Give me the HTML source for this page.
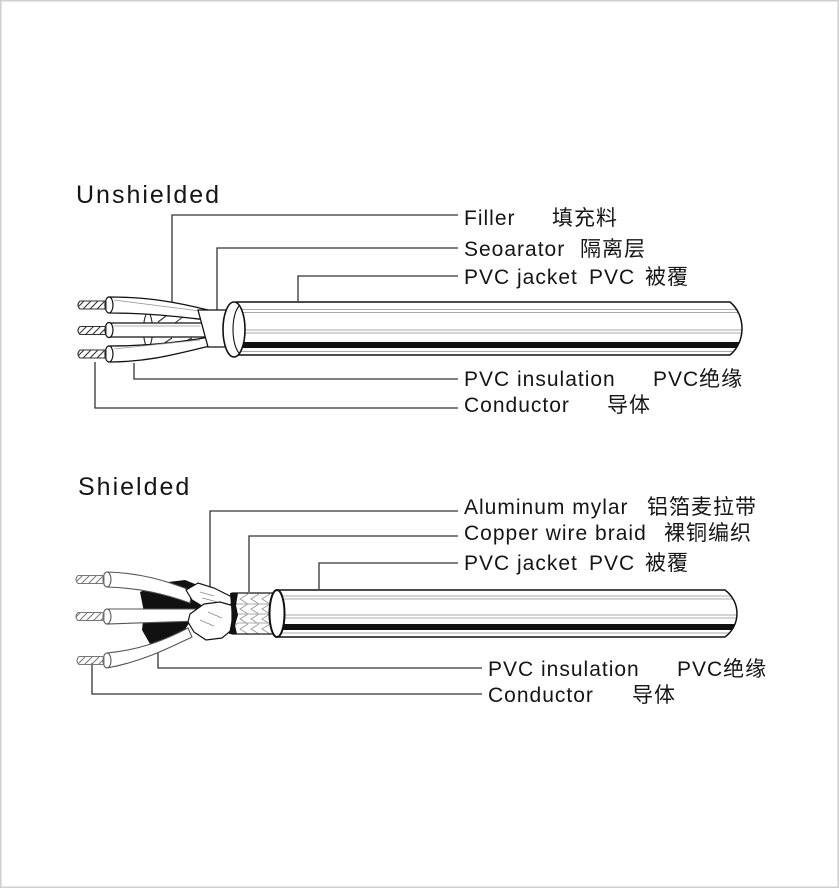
<!DOCTYPE html>
<html>
<head>
<meta charset="utf-8">
<style>
  html, body { margin: 0; padding: 0; background: #fff; }
  body { width: 840px; height: 889px; overflow: hidden; }
  svg { display: block; }
  text { font-family: "Liberation Sans", "Noto Sans CJK SC", sans-serif; fill: #151515; }
  .lbl { font-size: 21px; letter-spacing: 1px; }
  .ttl { font-size: 25px; letter-spacing: 2px; }
</style>
</head>
<body>
<svg width="840" height="889" viewBox="0 0 840 889" xmlns="http://www.w3.org/2000/svg">
  <defs>
    <pattern id="hatchD" patternUnits="userSpaceOnUse" width="7" height="7">
      <path d="M-1,8 L8,-1 M-4,4 L4,-4 M3,11 L11,3" stroke="#333" stroke-width="1.1"/>
    </pattern>
    <pattern id="hatchL" patternUnits="userSpaceOnUse" width="7" height="7">
      <path d="M-1,8 L8,-1 M-4,4 L4,-4 M3,11 L11,3" stroke="#777" stroke-width="1"/>
    </pattern>
    <pattern id="braid" patternUnits="userSpaceOnUse" width="11" height="10" x="237" y="594">
      <path d="M11,0 L3,5 L11,10" stroke="#999" stroke-width="0.9" fill="none"/>
    </pattern>
    <clipPath id="clipU">
      <path d="M236,302 L730,302 C746,315 746,342 730,355 L236,355 Z"/>
    </clipPath>
    <clipPath id="clipS">
      <path d="M276,590 L725,590 C741,602 741,625 725,637 L276,637 Z"/>
    </clipPath>
  </defs>

  <!-- border -->
  <rect x="0.75" y="0.75" width="837.5" height="886.5" fill="none" stroke="#cfcfcf" stroke-width="1.5"/>

  <!-- ================= UNSHIELDED ================= -->
  <text class="ttl" x="76" y="203">Unshielded</text>

  <g stroke="#333" stroke-width="1.3" fill="none">
    <path d="M172,306 L172,215 L458,215"/>
    <path d="M217,310 L217,248 L458,248"/>
    <path d="M298,301 L298,276 L458,276"/>
    <path d="M134,363 L134,379 L458,379"/>
    <path d="M95,362 L95,408 L458,408"/>
  </g>

  <!-- filler -->
  <path d="M146,313 L205,311 L207,347 L146,347 Z" fill="#fff" stroke="none"/>
  <ellipse cx="148" cy="330" rx="4.5" ry="17" fill="#fff" stroke="#222" stroke-width="1.1"/>
  <g stroke="#333" stroke-width="1.1">
    <line x1="158" y1="322" x2="170" y2="313"/>
    <line x1="175" y1="323" x2="188" y2="313"/>
    <line x1="160" y1="346" x2="172" y2="338"/>
    <line x1="178" y1="345" x2="192" y2="338"/>
  </g>

  <!-- wires unshielded -->
  <g stroke="#111" stroke-width="1.3" fill="#fff">
    <path d="M109,297 C150,297 180,303 208,310 L208,320 C180,317 150,313 109,313 Z"/>
    <path d="M109,323 L208,323 L208,337 L109,337 Z"/>
    <path d="M109,346 C150,346 180,342 210,337 L210,346 C180,353 150,362 109,362 Z"/>
  </g>
  <g stroke="#999" stroke-width="0.8">
    <line x1="114" y1="300" x2="200" y2="311"/>
    <line x1="114" y1="326" x2="200" y2="326"/>
    <line x1="114" y1="349" x2="200" y2="340"/>
  </g>
  <g stroke="#111" stroke-width="1.2" fill="#fff">
    <ellipse cx="109" cy="305" rx="4" ry="8"/>
    <ellipse cx="109" cy="330" rx="4" ry="7.5"/>
    <ellipse cx="109" cy="354" rx="4" ry="8"/>
  </g>
  <g stroke="#333" stroke-width="1.1" fill="url(#hatchD)">
    <path d="M80,301 L106,301 L106,309 L80,309 Q76,305 80,301 Z"/>
    <path d="M80,326.5 L106,326.5 L106,334.5 L80,334.5 Q76,330.5 80,326.5 Z"/>
    <path d="M80,350 L106,350 L106,358 L80,358 Q76,354 80,350 Z"/>
  </g>

  <!-- separator -->
  <path d="M198,310 L234,310 L234,347 L208,347 Z" fill="#fff" stroke="#111" stroke-width="1.3"/>

  <!-- jacket unshielded -->
  <path d="M236,302 L730,302 C746,315 746,342 730,355 L236,355 Z" fill="#fff"/>
  <g clip-path="url(#clipU)">
    <g stroke="#a8a8a8" stroke-width="1">
      <line x1="236" y1="309.5" x2="760" y2="309.5"/>
      <line x1="236" y1="312.5" x2="760" y2="312.5"/>
      <line x1="236" y1="330" x2="760" y2="330"/>
      <line x1="236" y1="333" x2="760" y2="333"/>
      <line x1="236" y1="351.5" x2="760" y2="351.5"/>
    </g>
    <rect x="236" y="342" width="530" height="6" fill="#111"/>
  </g>
  <path d="M236,302 L730,302 C746,315 746,342 730,355 L236,355" fill="none" stroke="#111" stroke-width="1.5"/>
  <ellipse cx="234" cy="329.5" rx="11" ry="27.5" fill="#fff" stroke="#111" stroke-width="1.6"/>
  <path d="M239,306 C231,315 231,344 239,353" fill="none" stroke="#111" stroke-width="1.1"/>

  <!-- labels unshielded -->
  <text class="lbl" x="464" y="225">Filler</text>
  <text class="lbl" x="552" y="225">填充料</text>
  <text class="lbl" x="464" y="256">Seoarator</text>
  <text class="lbl" x="580" y="256">隔离层</text>
  <text class="lbl" x="464" y="284">PVC jacket</text>
  <text class="lbl" x="589" y="284">PVC</text>
  <text class="lbl" x="645" y="284">被覆</text>
  <text class="lbl" x="464" y="386">PVC insulation</text>
  <text class="lbl" x="653" y="386">PVC绝缘</text>
  <text class="lbl" x="464" y="412">Conductor</text>
  <text class="lbl" x="607" y="412">导体</text>

  <!-- ================= SHIELDED ================= -->
  <text class="ttl" x="78" y="495">Shielded</text>

  <g stroke="#333" stroke-width="1.3" fill="none">
    <path d="M210,587 L210,511 L458,511"/>
    <path d="M249,592 L249,536 L458,536"/>
    <path d="M319,589 L319,563 L458,563"/>
    <path d="M158,650 L158,668 L482,668"/>
    <path d="M92,663 L92,694 L482,694"/>
  </g>

  <!-- black filler / shadow -->
  <path d="M140,592 L160,583 L185,580 L200,586 L208,598 L196,612 L186,628 L176,642 L162,649 L150,644 L142,630 L144,612 Z" fill="#111"/>

  <!-- wires shielded -->
  <g stroke="#555" stroke-width="1.1" fill="#fff">
    <path d="M107,572 C140,573 165,580 192,591 L190,603 C165,594 140,588 107,587 Z"/>
    <path d="M107,609 L198,609 L198,621 L107,624 Z"/>
    <path d="M107,653 C140,650 165,640 188,628 L192,637 C165,650 140,662 107,668 Z"/>
  </g>
  <g stroke="#555" stroke-width="1.1" fill="#fff">
    <ellipse cx="107" cy="579.5" rx="4" ry="7.5"/>
    <ellipse cx="107" cy="616.5" rx="4" ry="7.5"/>
    <ellipse cx="107" cy="660.5" rx="4" ry="7.5"/>
  </g>
  <g stroke="#777" stroke-width="1" fill="url(#hatchL)">
    <path d="M78,575.5 L104,575.5 L104,583.5 L78,583.5 Q74,579.5 78,575.5 Z"/>
    <path d="M78,612.5 L104,612.5 L104,620.5 L78,620.5 Q74,616.5 78,612.5 Z"/>
    <path d="M79,656.5 L104,656.5 L104,664.5 L79,664.5 Q75,660.5 79,656.5 Z"/>
  </g>

  <!-- foil pieces -->
  <g stroke="#111" stroke-width="1.2" fill="#fff">
    <path d="M186,590 L198,583 L214,588 L226,594 L234,598 L230,606 L216,610 L202,606 L192,600 Z"/>
    <path d="M190,614 L204,604 L220,602 L234,606 L234,628 L222,638 L206,640 L194,632 L188,622 Z"/>
  </g>
  <g stroke="#888" stroke-width="0.7">
    <line x1="200" y1="592" x2="214" y2="596"/>
    <line x1="202" y1="598" x2="218" y2="602"/>
    <line x1="200" y1="620" x2="214" y2="626"/>
    <line x1="208" y1="612" x2="222" y2="618"/>
  </g>

  <!-- braid -->
  <rect x="232" y="593" width="46" height="41" fill="url(#braid)" stroke="#111" stroke-width="1.2"/>
  <g stroke="#aaa" stroke-width="0.9">
    <line x1="237" y1="604" x2="276" y2="604"/>
    <line x1="237" y1="614" x2="276" y2="614"/>
    <line x1="237" y1="623" x2="276" y2="623"/>
  </g>
  <path d="M230,593 L238,593 L236,605 L238,615 L235,625 L237,634 L229,634 L232,618 Z" fill="#111"/>

  <!-- jacket shielded -->
  <path d="M278,590 L725,590 C741,602 741,625 725,637 L278,637 Z" fill="#fff"/>
  <g clip-path="url(#clipS)">
    <g stroke="#a8a8a8" stroke-width="1">
      <line x1="276" y1="596" x2="760" y2="596"/>
      <line x1="276" y1="599" x2="760" y2="599"/>
      <line x1="276" y1="615" x2="760" y2="615"/>
      <line x1="276" y1="618" x2="760" y2="618"/>
      <line x1="276" y1="633" x2="760" y2="633"/>
    </g>
    <rect x="276" y="624" width="490" height="6" fill="#111"/>
  </g>
  <path d="M278,590 L725,590 C741,602 741,625 725,637 L278,637" fill="none" stroke="#111" stroke-width="1.5"/>
  <ellipse cx="277" cy="613.5" rx="7.5" ry="23.5" fill="#fff" stroke="#111" stroke-width="2"/>

  <!-- labels shielded -->
  <text class="lbl" x="464" y="514">Aluminum mylar</text>
  <text class="lbl" x="647" y="514">铝箔麦拉带</text>
  <text class="lbl" x="464" y="540">Copper wire braid</text>
  <text class="lbl" x="664" y="540">裸铜编织</text>
  <text class="lbl" x="464" y="570">PVC jacket</text>
  <text class="lbl" x="589" y="570">PVC</text>
  <text class="lbl" x="645" y="570">被覆</text>
  <text class="lbl" x="488" y="676">PVC insulation</text>
  <text class="lbl" x="677" y="676">PVC绝缘</text>
  <text class="lbl" x="488" y="702">Conductor</text>
  <text class="lbl" x="632" y="702">导体</text>
</svg>
</body>
</html>
